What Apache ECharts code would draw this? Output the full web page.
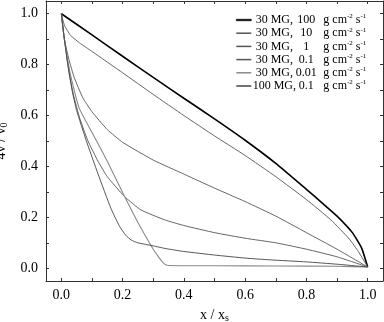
<!DOCTYPE html>
<html>
<head>
<meta charset="utf-8">
<script src="https://cdn.jsdelivr.net/npm/echarts@6/dist/echarts.min.js"></script>
<style>
  html, body { margin: 0; padding: 0; background: #fff; }
  #chart { width: 384px; height: 322px; }
</style>
</head>
<body>
<div id="chart"></div>
<script>
// legend text parts
const fieldLabels = ['30 MG,', '30 MG,', '30 MG,', '30 MG,', '30 MG,', '100 MG,']
const rateLabels = ['100', '10', '1', '0.1', '0.01', '0.1']

// curves, [x/xs, 4v/v0]
const rate100 = [[0, 1], [0.1, 0.917], [0.2, 0.833], [0.3, 0.75], [0.4, 0.668], [0.5, 0.587],
  [0.6, 0.503], [0.7, 0.412], [0.8, 0.31], [0.85, 0.258], [0.9, 0.205], [0.95, 0.14],
  [0.98, 0.08], [1, 0.005]]
const rate10 = [[0, 1], [0.01, 0.955], [0.03, 0.915], [0.06, 0.885], [0.1, 0.852], [0.2, 0.768],
  [0.3, 0.683], [0.4, 0.6], [0.5, 0.52], [0.6, 0.443], [0.7, 0.36], [0.8, 0.27], [0.88, 0.19],
  [0.94, 0.115], [0.97, 0.065], [1, 0.005]]
const rate1 = [[0, 1], [0.01, 0.9], [0.025, 0.82], [0.042, 0.75], [0.07, 0.67], [0.1, 0.615],
  [0.15, 0.545], [0.2, 0.495], [0.3, 0.425], [0.4, 0.37], [0.5, 0.315], [0.6, 0.262],
  [0.7, 0.205], [0.8, 0.14], [0.9, 0.075], [0.95, 0.04], [1, 0.005]]
const rate01 = [[0, 1], [0.01, 0.9], [0.025, 0.77], [0.04, 0.68], [0.06, 0.59], [0.086, 0.503],
  [0.12, 0.42], [0.15, 0.36], [0.207, 0.281], [0.26, 0.229], [0.338, 0.19], [0.4, 0.168],
  [0.5, 0.14], [0.6, 0.118], [0.7, 0.1], [0.8, 0.075], [0.9, 0.045], [1, 0.005]]
const rate001 = [[0, 1], [0.01, 0.9], [0.03, 0.76], [0.058, 0.63], [0.114, 0.503], [0.15, 0.42],
  [0.207, 0.281], [0.25, 0.18], [0.3, 0.075], [0.321, 0.039], [0.33, 0.025], [0.338, 0.016],
  [0.35, 0.011], [0.5, 0.01], [0.7, 0.009], [0.9, 0.008], [1, 0.005]]
const rate01b = [[0, 1], [0.01, 0.9], [0.02, 0.81], [0.035, 0.7], [0.05, 0.62], [0.081, 0.503],
  [0.12, 0.37], [0.162, 0.235], [0.19, 0.165], [0.21, 0.13], [0.228, 0.111], [0.25, 0.1],
  [0.3, 0.088], [0.338, 0.078], [0.4, 0.066], [0.5, 0.052], [0.6, 0.04], [0.682, 0.033],
  [0.8, 0.025], [0.9, 0.016], [1, 0.005]]

const curves = [rate100, rate10, rate1, rate01, rate001, rate01b]
const colors = ['#000', '#555', '#555', '#555', '#8a8a8a', '#444']
const widths = [1.6, 0.9, 0.9, 0.9, 1.1, 0.9]

const majorTicks = [0, 0.2, 0.4, 0.6, 0.8, 1.0]
const allTicks = [0, 0.1, 0.2, 0.3, 0.4, 0.5, 0.6, 0.7, 0.8, 0.9, 1.0]

const font = 'Liberation Serif'
const names = fieldLabels.map((f, i) => f + ' ' + rateLabels[i] + ' g cm-2 s-1')

function frameAxis(pos, showLabel) {
  return {
    type: 'value',
    position: pos,
    min: -0.05,
    max: 1.05,
    splitLine: { show: false },
    axisLine: { onZero: false, lineStyle: { color: '#333', width: 1 } },
    axisTick: { inside: true, length: 3, customValues: allTicks, lineStyle: { color: '#333' } },
    axisLabel: {
      show: showLabel,
      customValues: majorTicks,
      fontFamily: font,
      fontSize: 14,
      color: '#000',
      formatter: v => v.toFixed(1)
    }
  }
}

const chart = echarts.init(document.getElementById('chart'))

const nameStyle = {
  rich: {
    a: { fontFamily: font, fontSize: 14, color: '#000' },
    s: { fontFamily: font, fontSize: 10, color: '#000', verticalAlign: 'bottom', padding: [6, 0, 0, 0] }
  }
}
const xBottom = frameAxis('bottom', true)
xBottom.axisLabel.margin = 7
xBottom.name = '{a|x / x}{s|s}'
xBottom.nameLocation = 'middle'
xBottom.nameGap = 26
xBottom.nameTextStyle = nameStyle

const yLeft = frameAxis('left', true)
yLeft.axisLabel.margin = 8
yLeft.name = '{a|4v / v}{s|0}'
yLeft.nameLocation = 'middle'
yLeft.nameGap = 30
yLeft.nameTextStyle = nameStyle

chart.setOption({
  animation: false,
  backgroundColor: '#fff',
  grid: { left: 46, right: 1, top: 1, bottom: 41, outerBoundsMode: 'none' },
  xAxis: [xBottom, frameAxis('top', false)],
  yAxis: [yLeft, frameAxis('right', false)],
  legend: {
    orient: 'vertical',
    left: 236,
    top: 13,
    padding: 0,
    itemGap: 0.2,
    itemWidth: 15,
    itemHeight: 1.5,
    icon: 'rect',
    data: names.map((n, i) => i === 0
      ? { name: n, itemStyle: { borderColor: '#000', borderWidth: 0.6 } }
      : { name: n }),
    formatter: name => {
      const i = names.indexOf(name)
      return '{m|' + fieldLabels[i] + '}{f|' + rateLabels[i] + '}{u| g cm}{p|-2}{u| s}{p|-1}'
    },
    textStyle: {
      fontFamily: font,
      fontSize: 12,
      color: '#000',
      rich: {
        m: { fontFamily: font, fontSize: 12, width: 36, align: 'right', lineHeight: 14 },
        f: { fontFamily: font, fontSize: 12, width: 28, align: 'right', lineHeight: 14 },
        u: { fontFamily: font, fontSize: 12, lineHeight: 14 },
        p: { fontFamily: font, fontSize: 7, verticalAlign: 'top', lineHeight: 14 }
      }
    }
  },
  series: curves.map((d, i) => ({
    name: names[i],
    type: 'line',
    data: d,
    symbol: 'none',
    smooth: 0.15,
    color: colors[i],
    lineStyle: { color: colors[i], width: widths[i] }
  }))
})
</script>
</body>
</html>
